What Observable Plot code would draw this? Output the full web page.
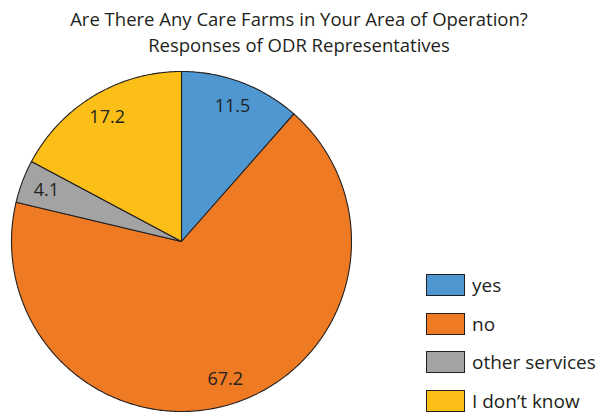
<!DOCTYPE html>
<html>
<head>
<meta charset="utf-8">
<script src="https://cdn.jsdelivr.net/npm/d3@7"></script>
<script src="https://cdn.jsdelivr.net/npm/@observablehq/plot@0.6"></script>
<style>
  html, body { margin: 0; padding: 0; background: #fff; }
  #wrap { position: relative; width: 598px; height: 414px; font-family: "Open Sans", sans-serif; color: #231f20; }
  #title { position: absolute; left: 0; top: 6px; width: 598px; text-align: center; font-size: 18.5px; line-height: 26px; }
  #legend { position: absolute; left: 426px; top: 274px; }
  .item { display: flex; align-items: center; height: 22px; margin-bottom: 16.5px; font-size: 19px; }
  .sw { width: 37px; height: 20px; border: 1px solid #231f20; margin-right: 7px; flex: none; }
  #chart { position: absolute; left: 0; top: 0; }
</style>
</head>
<body>
<div id="wrap">
  <div id="chart"></div>
  <div id="title">Are There Any Care Farms in Your Area of Operation?<br>Responses of ODR Representatives</div>
  <div id="legend"></div>
</div>
<script>
const categories = ["yes", "no", "other services", "I don't know"];
const legendLabels = ["yes", "no", "other services", "I don’t know"];
const values = [11.5, 67.2, 4.1, 17.2];
const colors = ["#4e97d1", "#ee7a23", "#a3a3a3", "#fcbf17"];

const data = categories.map((c, i) => ({category: c, value: values[i], color: colors[i]}));
const arcs = d3.pie().sort(null).value(d => d.value)(data);

// polygon points for each slice on unit circle (angle 0 at top, clockwise)
function slicePoints(a) {
  const pts = [{x: 0, y: 0}];
  const n = Math.max(2, Math.ceil((a.endAngle - a.startAngle) / 0.01));
  for (let k = 0; k <= n; k++) {
    const t = a.startAngle + (a.endAngle - a.startAngle) * k / n;
    pts.push({x: Math.sin(t), y: Math.cos(t)});
  }
  pts.push({x: 0, y: 0});
  return pts;
}
const labelR = 0.85;
const labels = arcs.map(a => {
  const m = (a.startAngle + a.endAngle) / 2;
  return {x: labelR * Math.sin(m), y: labelR * Math.cos(m), text: String(a.data.value)};
});

const marks = arcs.map(a => Plot.line(slicePoints(a), {
  x: "x", y: "y", fill: a.data.color, stroke: "#231f20", strokeWidth: 1.1, curve: "linear"
}));
marks.push(Plot.text(labels, {x: "x", y: "y", text: "text", fontSize: 18, fill: "#231f20", fontFamily: "Open Sans"}));

const plot = Plot.plot({
  width: 598, height: 414,
  marginLeft: 11, marginRight: 247, marginTop: 71, marginBottom: 3,
  x: {domain: [-1, 1], axis: null},
  y: {domain: [-1, 1], axis: null},
  style: {background: "transparent", overflow: "visible"},
  marks
});
document.getElementById("chart").appendChild(plot);

const leg = document.getElementById("legend");
data.forEach((d, i) => {
  const it = document.createElement("div");
  it.className = "item";
  it.innerHTML = `<div class="sw" style="background:${d.color}"></div><span>${legendLabels[i]}</span>`;
  leg.appendChild(it);
});
</script>
</body>
</html>
